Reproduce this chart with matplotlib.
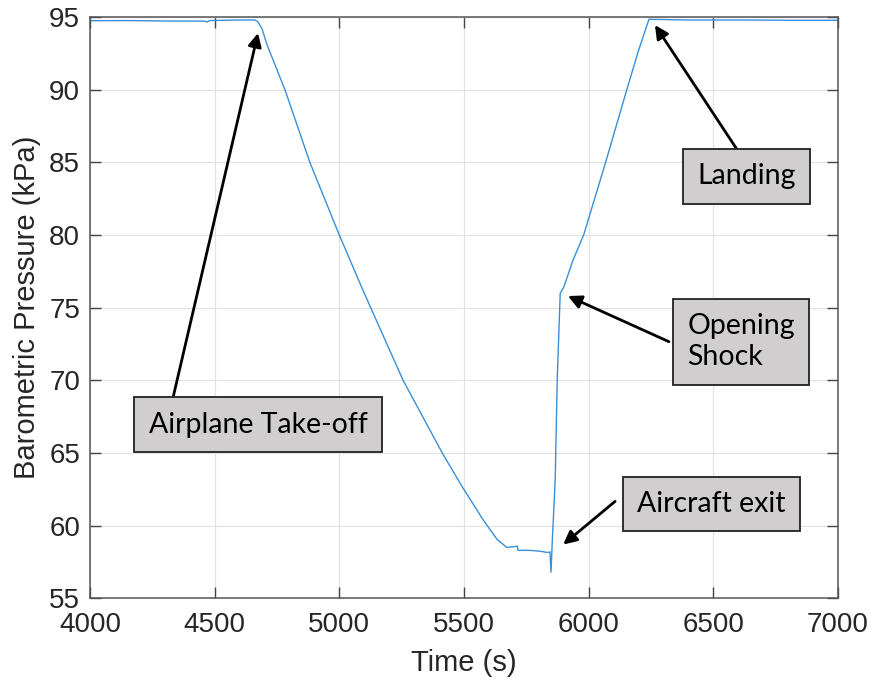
import matplotlib
matplotlib.use("Agg")
import matplotlib.pyplot as plt

# pressure trace (time in s, pressure in kPa)
time_s = [4000, 4150, 4300, 4460, 4470, 4480, 4600, 4660, 4672, 4690, 4710,
          4782, 4882, 5000, 5095, 5126, 5256, 5413, 5492, 5577, 5633, 5672,
          5700, 5713, 5717, 5765, 5800, 5838, 5845, 5849, 5852, 5854, 5866,
          5874, 5886, 5900, 5938, 5980, 6068, 6153, 6200, 6242, 6400, 6600,
          6800, 7000]
pressure_kpa = [94.75, 94.76, 94.73, 94.72, 94.66, 94.76, 94.80, 94.80, 94.70,
                94.20, 93.10, 90.0, 85.0, 80.0, 76.2, 75.0, 70.0, 65.0, 62.7,
                60.4, 59.05, 58.5, 58.55, 58.6, 58.3, 58.3, 58.25, 58.15, 58.2,
                56.8, 58.0, 58.85, 63.2, 70.05, 76.0, 76.4, 78.3, 80.0, 85.0,
                90.0, 92.7, 94.85, 94.80, 94.80, 94.78, 94.78]

# annotation labels, box centres and arrow tail/head
labels = ["Airplane Take-off", "Landing", "Opening\nShock", "Aircraft exit"]
label_pos = [(4674, 66.96), (6635, 84.04), (6611, 72.66), (6491, 61.5)]
arrow_tail = [(4333, 68.8), (6660, 84.2), (6322, 72.66), (6106, 61.67)]
arrow_head = [(4674, 93.9), (6266, 94.45), (5917, 75.8), (5898, 58.7)]

tick_font = "Liberation Sans"
box_font = "Lato"

fig = plt.figure(figsize=(8.7, 6.83), dpi=100)
ax = fig.add_axes([0.1034, 0.124, 0.8598, 0.851])

ax.plot(time_s, pressure_kpa, color="#3a8fd6", lw=1.0)

ax.set_xlim(4000, 7000)
ax.set_ylim(55, 95)
ax.set_xticks(range(4000, 7001, 500))
ax.set_yticks(range(55, 96, 5))
ax.grid(True, color="#e3e3e3", lw=0.9)
ax.set_axisbelow(True)
ax.tick_params(direction="in", length=8, width=1, color="#444444",
               top=True, right=True, labelsize=20)
ax.tick_params(axis="x", pad=10)
ax.tick_params(axis="y", pad=7)
for lab in ax.get_xticklabels() + ax.get_yticklabels():
    lab.set_fontfamily(tick_font)
    lab.set_color("#262626")
for sp in ax.spines.values():
    sp.set_color("#555555")
    sp.set_linewidth(1.1)

ax.set_xlabel("Time (s)", fontsize=21, family=tick_font, color="#262626", labelpad=8)
ax.set_ylabel("Barometric Pressure (kPa)", fontsize=21, family=tick_font,
              color="#262626", labelpad=6)

for tail, head in zip(arrow_tail, arrow_head):
    ax.annotate("", xy=head, xytext=tail,
                arrowprops=dict(arrowstyle="-|>", color="black", lw=2,
                                mutation_scale=20, shrinkA=0, shrinkB=0))

for text, (x, y) in zip(labels, label_pos):
    ax.text(x, y, text, ha="center", va="center", fontsize=20.5, family=box_font,
            ma="left", linespacing=1.25, zorder=5,
            bbox=dict(boxstyle="square,pad=0.5", fc="#d0cece", ec="#222222", lw=1.3))

fig.savefig("out.png", dpi=100)
